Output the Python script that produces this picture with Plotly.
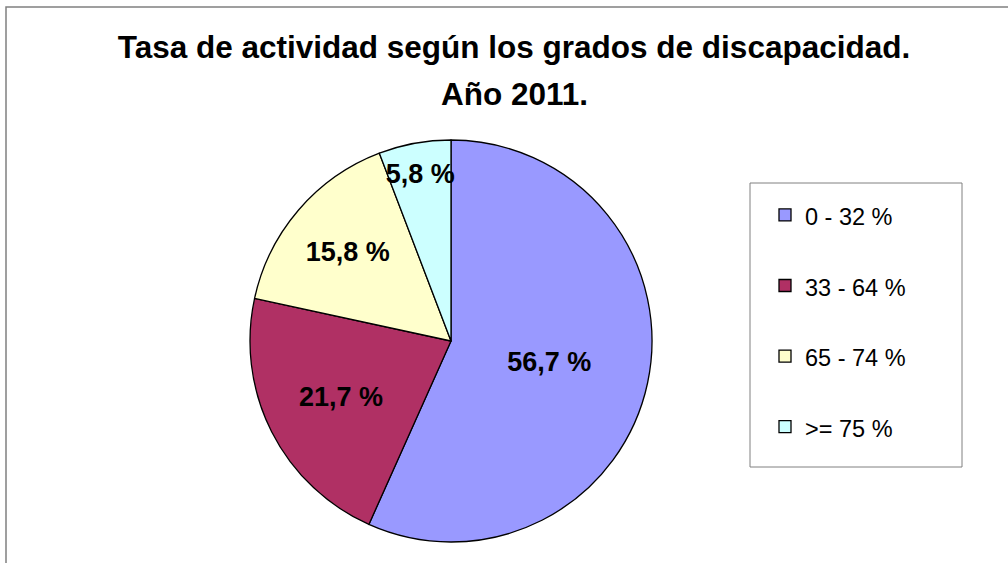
import plotly.graph_objects as go

categories = ["0 - 32 %", "33 - 64 %", "65 - 74 %", ">= 75 %"]
values = [56.7, 21.7, 15.8, 5.8]
value_labels = ["56,7 %", "21,7 %", "15,8 %", "5,8 %"]
colors = ["#9999FF", "#B03064", "#FFFFCC", "#CCFFFF"]
title_line1 = "Tasa de actividad según los grados de discapacidad."
title_line2 = "Año 2011."

W, H = 1008, 563
FONT = "Liberation Sans, Arial"

legend_labels = ["<span style='font-size:23.5px'>" + c + "</span><br> " for c in categories]

fig = go.Figure(go.Pie(
    labels=legend_labels,
    values=values,
    text=value_labels,
    textinfo="text",
    textposition="inside",
    insidetextorientation="horizontal",
    textfont=dict(family=FONT, size=27, color="black", weight="bold"),
    marker=dict(colors=colors, line=dict(color="black", width=1.3)),
    sort=False,
    direction="clockwise",
    rotation=0,
    domain=dict(x=[250 / W, 652 / W], y=[1 - 542 / H, 1 - 140 / H]),
    hoverinfo="skip",
))

fig.update_layout(
    width=W, height=H,
    margin=dict(l=0, r=0, t=0, b=0),
    paper_bgcolor="white",
    plot_bgcolor="white",
    uniformtext=dict(minsize=27, mode="show"),
    title=dict(
        text="<b>" + title_line1 + "</b>",
        x=514 / W, xanchor="center", y=1 - 47 / H, yanchor="middle",
        font=dict(family=FONT, size=31.5, color="black"),
    ),
    annotations=[
        dict(text="<b>" + title_line2 + "</b>", xref="paper", yref="paper",
             x=514 / W, y=1 - 94 / H, xanchor="center", yanchor="middle",
             showarrow=False, font=dict(family=FONT, size=31.5, color="black")),
    ],
    showlegend=True,
    legend=dict(
        x=765 / W, xanchor="left", y=1 - 338 / H, yanchor="middle",
        font=dict(family=FONT, size=26, color="black"),
        bgcolor="rgba(0,0,0,0)", borderwidth=0, valign="top",
    ),
    shapes=[
        dict(type="rect", xref="paper", yref="paper",
             x0=750 / W, x1=962 / W, y0=1 - 467 / H, y1=1 - 183 / H,
             line=dict(color="#808080", width=1), fillcolor="rgba(0,0,0,0)", layer="below"),
        dict(type="rect", xref="paper", yref="paper",
             x0=6 / W, x1=1.05, y0=-0.05, y1=1 - 7 / H,
             line=dict(color="#808080", width=1.5), fillcolor="rgba(0,0,0,0)", layer="below"),
    ],
)

fig.write_html("out.html", config={"displayModeBar": False},
               post_script="document.body.style.margin='0';")
